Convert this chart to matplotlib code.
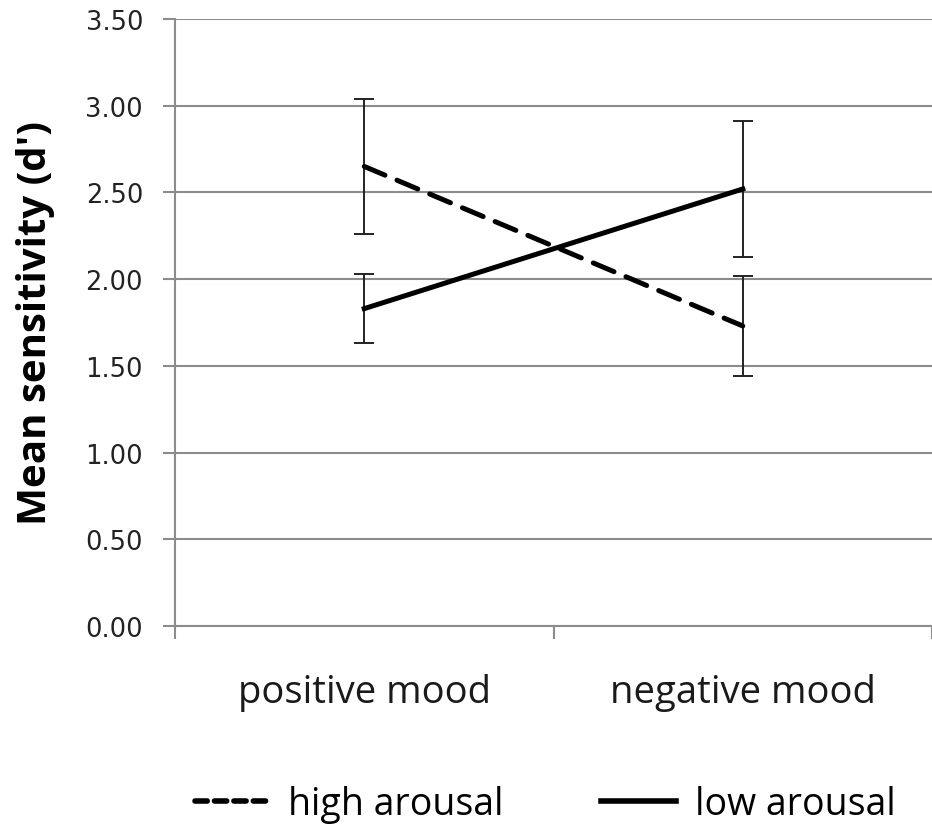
import matplotlib.pyplot as plt
from matplotlib.lines import Line2D

# mean d' per mood condition, with error bar half-widths
conditions = ["positive mood", "negative mood"]
high_arousal = [2.65, 1.73]
high_arousal_err = [0.39, 0.29]
low_arousal = [1.83, 2.52]
low_arousal_err = [0.20, 0.39]
y_ticks = [0.0, 0.5, 1.0, 1.5, 2.0, 2.5, 3.0, 3.5]

grid_grey = "#8c8c8c"

fig = plt.figure(figsize=(9.32, 8.28), dpi=100)
ax = fig.add_axes([0.1878, 0.2428, 0.8122, 0.7330])

x = [1, 2]
ax.errorbar(x, high_arousal, yerr=high_arousal_err, color="black", lw=3.6,
            dashes=(4.5, 2.6), dash_capstyle="round", ecolor="#222222",
            elinewidth=1.4, capsize=7, capthick=1.4, zorder=3)
ax.errorbar(x, low_arousal, yerr=low_arousal_err, color="black", lw=3.6,
            ecolor="#222222", elinewidth=1.4, capsize=7, capthick=1.4, zorder=3)

ax.set_xlim(0.5, 2.5)
ax.set_ylim(0, 3.5)
ax.set_yticks(y_ticks)
ax.set_yticklabels([f"{t:.2f}" for t in y_ticks], fontsize=18.5,
                   fontfamily="DejaVu Sans", color="#222222")
ax.yaxis.grid(True, color=grid_grey, lw=1.5)
ax.set_axisbelow(True)

# category labels sit between the boundary ticks
ax.set_xticks(x)
ax.set_xticklabels(conditions, fontsize=27.5, fontfamily="Open Sans", color="#1a1a1a")
ax.tick_params(axis="x", which="major", length=0, pad=34)
ax.set_xticks([0.5, 1.5, 2.5], minor=True)
ax.tick_params(axis="x", which="minor", length=9, width=1.5, color=grid_grey)
ax.tick_params(axis="y", length=9, width=1.5, color=grid_grey, pad=14)

for side in ["top", "right"]:
    ax.spines[side].set_visible(False)
for side in ["left", "bottom"]:
    ax.spines[side].set_color(grid_grey)
    ax.spines[side].set_linewidth(1.5)

ax.set_ylabel("Mean sensitivity (d')", fontsize=29, fontweight="bold",
              fontfamily="Open Sans")
ax.yaxis.set_label_coords(-0.158, 0.5)

handles = [
    Line2D([], [], color="black", lw=4, dashes=(2.2, 1.3), dash_capstyle="round"),
    Line2D([], [], color="black", lw=4),
]
fig.legend(handles, ["high arousal", "low arousal"], loc="center",
           bbox_to_anchor=(0.585, 0.028), ncol=2, frameon=False,
           prop={"family": "Open Sans", "size": 27}, handlelength=2.0,
           handletextpad=0.5, columnspacing=2.6)

fig.savefig("out.png", dpi=100)
